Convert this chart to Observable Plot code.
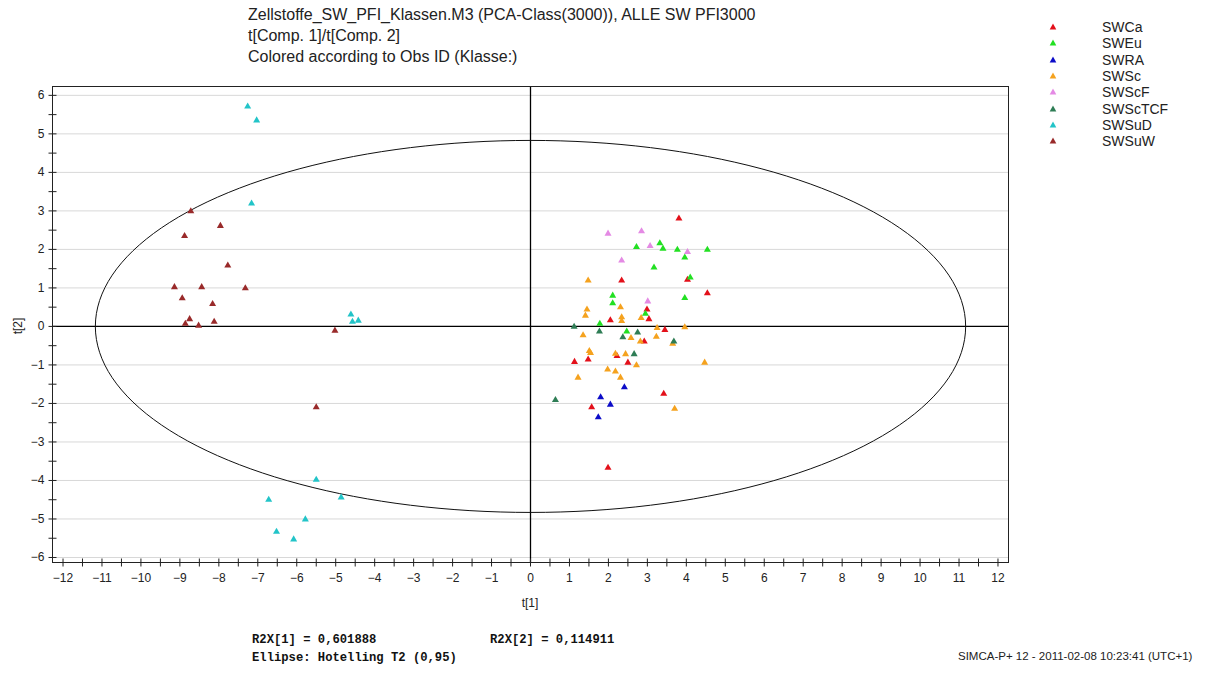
<!DOCTYPE html>
<html><head><meta charset="utf-8">
<script src="https://cdn.jsdelivr.net/npm/d3@7"></script>
<script src="https://cdn.jsdelivr.net/npm/@observablehq/plot@0.6"></script>
<style>
body{margin:0;background:#fff;}
#wrap{position:relative;width:1206px;height:680px;overflow:hidden;font-family:"Liberation Sans",Arial,sans-serif;color:#222;}
#chart{position:absolute;left:0;top:0;}
.t{position:absolute;white-space:nowrap;line-height:1;}
.title{left:248px;font-size:16px;}
.leg{position:absolute;left:1046px;font-size:14px;white-space:nowrap;line-height:1;}
.leg svg{position:absolute;left:0;top:0;}
.leg span{position:absolute;left:56px;top:0;}
.mono{font-family:"Liberation Mono","DejaVu Sans Mono",monospace;font-size:12.2px;font-weight:bold;color:#111;}
</style></head><body><div id="wrap"><div id="chart"></div></div>
<script>
// ---- data (t[1], t[2]) per class ----
const classNames = ["SWCa","SWEu","SWRA","SWSc","SWScF","SWScTCF","SWSuD","SWSuW"];
const classColors = ["#e3101a","#22e022","#0c0cc8","#f5a21e","#e48ae4","#2e7d55","#22c4c8","#992a2a"];
const SWCa = [[3.81,2.80],[2.34,1.19],[4.03,1.21],[4.54,0.86],[2.99,0.44],[3.04,0.19],[2.05,0.16],[3.45,-0.09],[2.92,-0.39],[2.22,-0.77],[1.13,-0.92],[1.48,-0.86],[2.50,-0.94],[3.42,-1.75],[1.57,-2.10],[1.99,-3.67]];
const SWEu = [[2.72,2.06],[3.32,2.16],[3.40,2.02],[3.77,1.99],[4.54,1.99],[3.96,1.79],[3.17,1.53],[4.10,1.27],[2.11,0.80],[2.11,0.60],[3.96,0.74],[2.95,0.33],[1.78,0.07],[2.47,-0.13]];
const SWRA = [[2.41,-1.58],[1.80,-1.84],[2.05,-2.03],[1.74,-2.36]];
const SWSc = [[1.48,1.19],[1.45,0.44],[1.41,0.28],[2.31,0.50],[2.34,0.24],[2.34,0.14],[2.84,0.22],[3.25,-0.04],[3.96,-0.02],[1.35,-0.23],[2.58,-0.30],[3.23,-0.27],[2.82,-0.39],[3.65,-0.45],[1.51,-0.64],[1.54,-0.69],[2.18,-0.71],[2.44,-0.72],[2.72,-1.01],[4.47,-0.94],[1.98,-1.12],[2.18,-1.17],[1.22,-1.33],[2.31,-1.33],[3.70,-2.14]];
const SWScF = [[1.99,2.41],[2.85,2.47],[3.07,2.09],[4.03,1.93],[2.34,1.71],[3.01,0.65]];
const SWScTCF = [[1.12,-0.01],[1.77,-0.13],[2.75,-0.16],[2.37,-0.28],[3.68,-0.39],[2.66,-0.72],[0.64,-1.91]];
const SWSuD = [[-7.26,5.71],[-7.03,5.35],[-7.16,3.19],[-4.61,0.31],[-4.57,0.12],[-4.42,0.15],[-5.50,-3.98],[-6.72,-4.50],[-4.86,-4.44],[-5.78,-5.01],[-6.52,-5.33],[-6.08,-5.53]];
const SWSuW = [[-8.72,2.99],[-7.96,2.61],[-8.88,2.35],[-7.77,1.58],[-9.14,1.02],[-8.44,1.02],[-7.32,0.99],[-8.94,0.73],[-8.16,0.58],[-8.75,0.19],[-8.86,0.07],[-8.12,0.12],[-8.52,0.02],[-5.02,-0.11],[-5.50,-2.10]];
const xTickValues = [-12,-11,-10,-9,-8,-7,-6,-5,-4,-3,-2,-1,0,1,2,3,4,5,6,7,8,9,10,11,12];
const yTickValues = [-6,-5,-4,-3,-2,-1,0,1,2,3,4,5,6];
const ellipseRadii = {a: 11.17, b: 4.83}; // Hotelling T2 (0,95)
const titleLines = ["Zellstoffe_SW_PFI_Klassen.M3 (PCA-Class(3000)), ALLE SW PFI3000","t[Comp. 1]/t[Comp. 2]","Colored according to Obs ID (Klasse:)"];

// ---- build tables ----
const seriesData = [SWCa,SWEu,SWRA,SWSc,SWScF,SWScTCF,SWSuD,SWSuW];
const points = seriesData.flatMap((arr,i)=>arr.map(([x,y])=>({cls:classNames[i],x,y})));
const ellipse = d3.range(0,361,2).map(t=>({x:ellipseRadii.a*Math.cos(t*Math.PI/180), y:ellipseRadii.b*Math.sin(t*Math.PI/180)}));
const xMinor = d3.range(-24,25).map(d=>d/2);
const yMinor = d3.range(-12,13).map(d=>d/2);
const vTick = {draw(ctx){ctx.moveTo(0,-4);ctx.lineTo(0,4);}};
const hTick = {draw(ctx){ctx.moveTo(-4,0);ctx.lineTo(4,0);}};

const plot = Plot.plot({
  width:1206, height:680,
  marginLeft:52, marginRight:198, marginTop:86, marginBottom:118,
  x:{domain:[-12.27,12.27]},
  y:{domain:[-6.13,6.23]},
  color:{domain:classNames, range:classColors},
  style:{fontFamily:"'Liberation Sans',Arial,sans-serif", fontSize:"12px", color:"#222", background:"#fff"},
  marks:[
    Plot.ruleY(yTickValues.filter(d=>d!==0),{stroke:"#d8d8d8", strokeWidth:1}),
    Plot.ruleY([0],{stroke:"#000", strokeWidth:1.3}),
    Plot.ruleX([0],{stroke:"#000", strokeWidth:1.3}),
    Plot.line(ellipse,{x:"x", y:"y", stroke:"#111", strokeWidth:1}),
    Plot.dot(points,{x:"x", y:"y", fill:"cls", symbol:"triangle", r:2.6, stroke:null}),
    Plot.frame({stroke:"#222", strokeWidth:1}),
    Plot.dot(xMinor,{x:d=>d, frameAnchor:"bottom", symbol:vTick, stroke:"#222", fill:"none", strokeWidth:1}),
    Plot.dot(yMinor,{y:d=>d, frameAnchor:"left", symbol:hTick, stroke:"#222", fill:"none", strokeWidth:1}),
    Plot.axisX(xTickValues,{tickSize:0, tickPadding:11, label:null, fontSize:12}),
    Plot.axisY(yTickValues,{tickSize:0, tickPadding:8, label:null, fontSize:12})
  ]
});
document.getElementById("chart").appendChild(plot);

const wrap = document.getElementById("wrap");
function addText(cls, txt, css){const d=document.createElement("div");d.className="t "+cls;d.textContent=txt;Object.assign(d.style,css);wrap.appendChild(d);return d;}
titleLines.forEach((s,i)=>addText("title", s, {top:(7+i*21)+"px"}));
addText("", "t[1]", {left:"530px", top:"597px", fontSize:"12px", transform:"translateX(-50%)"});
addText("", "t[2]", {left:"18px", top:"326px", fontSize:"12px", transform:"translate(-50%,-50%) rotate(-90deg)"});
addText("mono", "R2X[1] = 0,601888", {left:"252px", top:"634px"});
addText("mono", "R2X[2] = 0,114911", {left:"490px", top:"634px"});
addText("mono", "Ellipse: Hotelling T2 (0,95)", {left:"252px", top:"652px"});
addText("", "SIMCA-P+ 12 - 2011-02-08 10:23:41 (UTC+1)", {left:"958px", top:"651px", fontSize:"11.5px"});

// legend
classNames.forEach((name,i)=>{
  const row=document.createElement("div");row.className="leg";row.style.top=(20+i*16.3)+"px";
  row.innerHTML=`<svg width="14" height="14"><path d="M7,3.5 L10.3,9.5 L3.7,9.5 Z" fill="${classColors[i]}"/></svg><span>${name}</span>`;
  wrap.appendChild(row);
});
</script>
</body></html>
